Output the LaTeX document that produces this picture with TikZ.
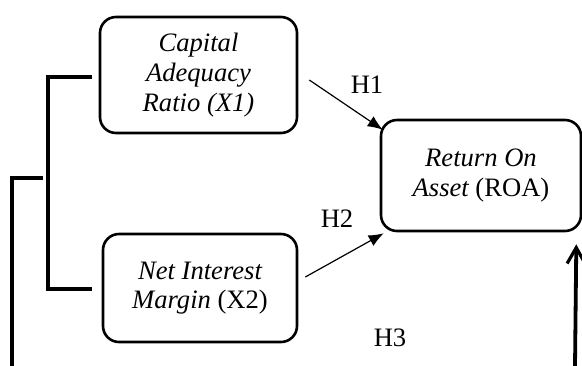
\documentclass[tikz,border=0pt]{standalone}
\usepackage{fontspec}
\setmainfont{Liberation Serif}
\usetikzlibrary{arrows.meta}

\begin{document}
\begin{tikzpicture}[
	x=0.5pt, y=-0.5pt,
	var/.style={rectangle, rounded corners=8pt, draw=black, line width=1.3pt, align=center, font=\fontsize{13.3}{14.8}\selectfont\itshape, inner sep=0pt},
	hyp/.style={->, >={Latex[length=7.5pt,width=6pt]}, line width=0.6pt},
	bracket/.style={draw=black, line width=1.9pt},
	lbl/.style={font=\fontsize{13.3}{14.8}\selectfont, inner sep=0pt}
	]
	\useasboundingbox (0,0) rectangle (582,365);
	\node[var, minimum width=98.5pt, minimum height=58pt] (car) at (198.5,75) {Capital\\Adequacy\\Ratio (X1)};
	\node[var, minimum width=97pt, minimum height=54pt] (nim) at (200,288) {Net Interest\\Margin \upshape(X2)};
	\node[var, minimum width=100pt, minimum height=55.5pt] (roa) at (481,175.5) {Return On\\Asset \upshape(ROA)};

	\coordinate (j1) at (43,178);
	\coordinate (j0) at (12,366);
	\coordinate (rb) at (575,366);

	\draw[hyp] ([shift={(11,5)}]car.east) -- ([shift={(3,11)}]roa.north west);
	\draw[hyp] ([shift={(7,-11)}]nim.east) -- ([shift={(4,1)}]roa.south west);
	\draw[bracket, -{Straight Barb[length=8pt,width=9pt,line width=1.6pt]}] (rb) -- ([shift={(-6,12)}]roa.south east);

	\draw[bracket] ([shift={(-7,2)}]car.west) -- ++(-44,0) |- ([shift={(-10,1)}]nim.west);
	\draw[bracket] (j1) -| (j0);

	\node[lbl] (h1) at (367,85) {H1};
	\node[lbl] (h2) at (337,219) {H2};
	\node[lbl] (h3) at (390,338) {H3};
\end{tikzpicture}
\end{document}
